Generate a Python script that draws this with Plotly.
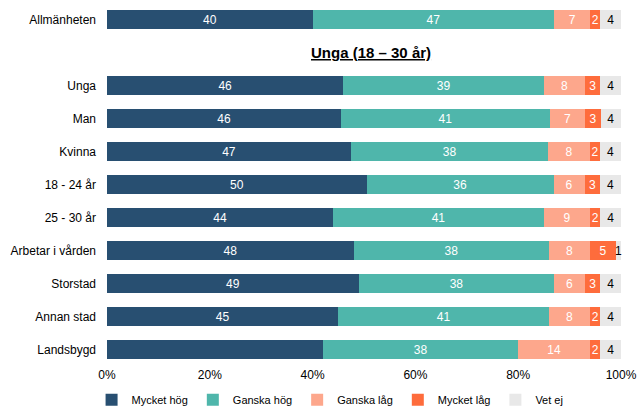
import plotly.graph_objects as go

categories = ["Allmänheten", "Unga", "Man", "Kvinna", "18 - 24 år", "25 - 30 år",
              "Arbetar i vården", "Storstad", "Annan stad", "Landsbygd"]
positions = [0, 2, 3, 4, 5, 6, 7, 8, 9, 10]

series_names = ["Mycket hög", "Ganska hög", "Ganska låg", "Mycket låg", "Vet ej"]
mycket_hog = [40, 46, 46, 47, 50, 44, 48, 49, 45, 42]
ganska_hog = [47, 39, 41, 38, 36, 41, 38, 38, 41, 38]
ganska_lag = [7, 8, 7, 8, 6, 9, 8, 6, 8, 14]
mycket_lag = [2, 3, 3, 2, 3, 2, 5, 3, 2, 2]
vet_ej = [4, 4, 4, 4, 4, 4, 1, 4, 4, 4]
hidden_labels = {("Mycket hög", "Landsbygd")}

colors = ["#284f71", "#4fb6ab", "#fda78c", "#fe6c3c", "#e8e8e8"]
text_colors = ["white", "white", "white", "white", "black"]
all_series = [mycket_hog, ganska_hog, ganska_lag, mycket_lag, vet_ej]

tick_vals = [0, 20, 40, 60, 80, 100]
tick_text = ["0%", "20%", "40%", "60%", "80%", "100%"]

# rounded shares do not always sum to 100; each bar is drawn as share of its row total
row_totals = [sum(s[i] for s in all_series) for i in range(len(categories))]

fig = go.Figure()
for name, vals, col, tcol in zip(series_names, all_series, colors, text_colors):
    texts = ["" if (name, c) in hidden_labels else str(v) for c, v in zip(categories, vals)]
    xs = [v * 100.0 / t for v, t in zip(vals, row_totals)]
    fig.add_trace(go.Bar(
        name=name, x=xs, y=positions, orientation="h",
        marker=dict(color=col, line=dict(width=0)),
        text=texts, textposition="inside", insidetextanchor="middle", textangle=0,
        textfont=dict(color=tcol, size=12, family="Liberation Sans"),
        width=0.58, cliponaxis=False, constraintext="none", hoverinfo="skip",
    ))

fig.add_annotation(text="<b><u>Unga (18 – 30 år)</u></b>", x=51.4, y=1, xref="x", yref="y",
                   showarrow=False, font=dict(size=15, color="black", family="Liberation Sans"))

fig.update_layout(
    barmode="stack", width=637, height=410,
    margin=dict(l=107, r=16, t=3, b=44, autoexpand=False),
    plot_bgcolor="white", paper_bgcolor="white",
    font=dict(family="Liberation Sans", size=12, color="black"),
    uniformtext=dict(minsize=12, mode="show"),
    xaxis=dict(range=[0, 100], tickvals=tick_vals, ticktext=tick_text, showgrid=False,
               zeroline=False, showline=False, ticks="", tickfont=dict(size=12),
               automargin=False),
    yaxis=dict(range=[10.5, -0.5], tickvals=positions, ticktext=categories, showgrid=False,
               zeroline=False, showline=False, ticks="", ticklabelstandoff=10,
               tickfont=dict(size=12), automargin=False),
    legend=dict(orientation="h", x=0.434, xanchor="center", y=-0.093, yanchor="middle",
                font=dict(size=11), itemwidth=30, traceorder="normal"),
    showlegend=True,
)

fig.write_html("out.html", post_script="document.body.style.margin='0';",
               config={"displayModeBar": False})
